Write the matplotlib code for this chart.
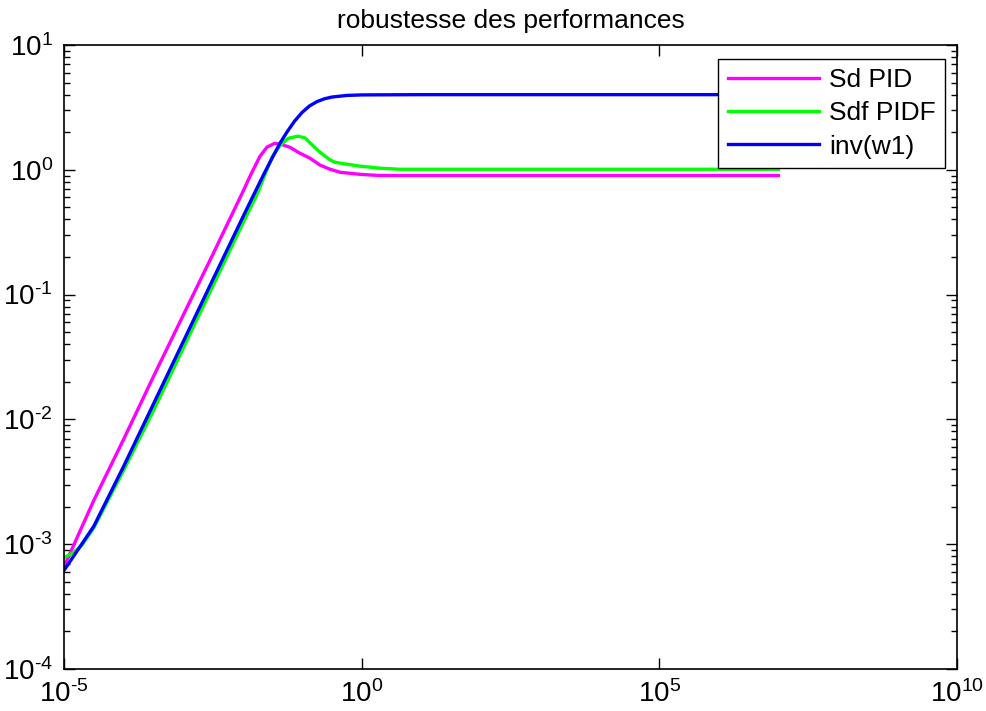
import matplotlib
matplotlib.use("Agg")
import matplotlib.pyplot as plt
import math
from matplotlib.ticker import LogLocator, NullLocator, FuncFormatter

plt.rcParams['font.family'] = ['Liberation Sans', 'DejaVu Sans']
plt.rcParams['mathtext.fontset'] = 'custom'
plt.rcParams['mathtext.rm'] = 'Liberation Sans'
plt.rcParams['mathtext.it'] = 'Liberation Sans'
plt.rcParams['mathtext.bf'] = 'Liberation Sans'
plt.rcParams['mathtext.default'] = 'regular'
plt.rcParams['axes.unicode_minus'] = False

# ---- data ----
freq_sd = [1e-5, 3.16e-5, 1e-4, 3.16e-4, 1e-3, 3.16e-3, 1e-2, 1.32e-2, 1.95e-2,
           2.57e-2, 3.47e-2, 4.47e-2, 6.31e-2, 9.12e-2, 1.35e-1, 2.0e-1, 2.95e-1,
           4.37e-1, 9.3e-1, 2.0, 1e7]
mag_sd = [6.6e-4, 2.24e-3, 6.9e-3, 0.0219, 0.068, 0.21, 0.66, 0.88, 1.28,
          1.52, 1.63, 1.60, 1.51, 1.36, 1.24, 1.09, 1.01,
          0.955, 0.92, 0.90, 0.90]

freq_sdf = [1e-5, 1.41e-5, 2.0e-5, 3.16e-5, 1e-4, 3.16e-4, 1e-3, 3.16e-3, 1e-2,
            1.78e-2, 2.88e-2, 3.24e-2, 4.27e-2, 5.89e-2, 8.51e-2, 1.12e-1,
            1.38e-1, 2.0e-1, 2.95e-1, 3.55e-1, 4.37e-1, 9.3e-1, 2.04, 4.37, 1e7]
mag_sdf = [7.8e-4, 8.5e-4, 9.8e-4, 1.35e-3, 3.9e-3, 0.0117, 0.037, 0.117, 0.37,
           0.65, 1.15, 1.3, 1.57, 1.79, 1.86, 1.8,
           1.63, 1.38, 1.2, 1.15, 1.13, 1.07, 1.03, 1.01, 1.01]

freq_w1 = [1e-5, 3.16e-5, 1e-4, 3.16e-4, 1e-3, 3.16e-3, 1e-2, 1.78e-2, 2.37e-2,
           3.16e-2, 4.22e-2, 5.62e-2, 7.5e-2, 1e-1, 1.33e-1, 1.78e-1, 2.37e-1,
           3.16e-1, 5.62e-1, 1.0, 10.0, 1e7]
mag_w1 = [6.17e-4, 1.39e-3, 4.19e-3, 0.0132, 0.0417, 0.1317, 0.414, 0.728, 0.959,
          1.251, 1.625, 2.022, 2.462, 2.885, 3.247, 3.52, 3.707,
          3.827, 3.943, 3.982, 4.0, 4.0]

labels = ['Sd PID', 'Sdf PIDF', 'inv(w1)']
title = 'robustesse des performances'


def dec_label(v, pos):
    e = int(round(math.log10(v)))
    if e < 0:
        return r'$10^{\text{-}%d}$' % (-e)
    return r'$10^{%d}$' % e


fig = plt.figure(figsize=(9.86, 7.11), dpi=100)
ax = fig.add_axes([64/986, 1-669/711, (957-64)/986, (669-45)/711])

ax.loglog(freq_sd, mag_sd, color='#ff00ff', lw=2.4, label=labels[0])
ax.loglog(freq_sdf, mag_sdf, color='#00ff00', lw=2.4, label=labels[1])
ax.loglog(freq_w1, mag_w1, color='#0000ff', lw=2.4, label=labels[2])

ax.set_xlim(1e-5, 1e10)
ax.set_ylim(1e-4, 1e1)
ax.set_xticks([1e-5, 1e0, 1e5, 1e10])
ax.xaxis.set_minor_locator(NullLocator())
ax.yaxis.set_major_locator(LogLocator(base=10, numticks=10))
ax.yaxis.set_minor_locator(LogLocator(base=10, subs=range(2, 10), numticks=20))
ax.xaxis.set_major_formatter(FuncFormatter(dec_label))
ax.yaxis.set_major_formatter(FuncFormatter(dec_label))

ax.tick_params(which='both', direction='in', top=True, right=True, labelsize=20, width=1)
ax.tick_params(which='major', length=8, pad=8)
ax.tick_params(which='minor', length=4)
for s in ax.spines.values():
    s.set_linewidth(1.2)

ax.set_title(title, fontsize=19, pad=12)

leg = ax.legend(loc='upper right', bbox_to_anchor=(945/986, 1-59/711),
                bbox_transform=fig.transFigure, borderaxespad=0,
                fontsize=19, fancybox=False, framealpha=1, edgecolor='black',
                handlelength=3.45, handletextpad=0.4, labelspacing=0.35,
                borderpad=0.35)
leg.get_frame().set_linewidth(1.0)

fig.savefig('out.png', dpi=100)
